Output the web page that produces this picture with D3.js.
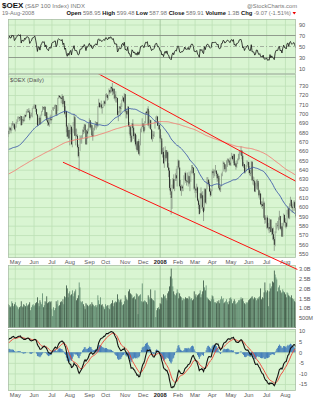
<!DOCTYPE html>
<html><head><meta charset="utf-8">
<script src="https://cdn.jsdelivr.net/npm/d3@7"></script>
<style>
html,body{margin:0;padding:0;background:#fff;}
svg{display:block;font-family:"Liberation Sans",Arial,sans-serif;}
</style></head><body>
<svg id="chart" width="322" height="400"></svg>
<script>
// ---- $OEX daily data ----
const startDate = "2007-04-19";
const endDate = "2008-08-19";
const holidays = ["2007-05-28","2007-07-04","2007-09-03","2007-11-22","2007-12-25",
  "2008-01-01","2008-01-21","2008-02-18","2008-03-21","2008-05-26","2008-07-04"];
const monthNames = ["2008","Feb","Mar","Apr","May","Jun","Jul","Aug","Sep","Oct","Nov","Dec"];

// closes before the plotted range (Jun 30 2006 - Apr 18 2007), used to seed the indicators
const history = [
  588.0,
  592.6,589.8,585.7,586.1,587.1,589.4,582.5,575.5,572.7,571.8,572.3,582.9,578.3,574.1,583.4,587.1,587.1,584.8,591.7,590.8,
  591.3,592.6,592.2,592.6,590.3,585.7,588.9,586.6,587.5,595.0,600.5,601.9,602.8,601.0,600.5,598.2,600.0,601.9,603.8,602.4,603.8,604.2,603.8,
  607.0,607.9,601.9,599.1,601.4,601.4,601.9,610.2,609.3,611.6,611.6,613.5,610.2,608.4,613.9,618.6,618.6,620.0,620.4,618.6,
  616.3,617.6,625.0,626.9,624.6,625.5,627.4,630.6,631.5,632.5,632.0,633.8,632.5,633.8,633.4,637.6,639.9,643.6,638.0,637.6,637.6,638.0,
  632.9,631.5,631.5,638.5,639.9,641.7,641.3,639.0,641.3,646.8,646.8,648.7,648.2,648.2,649.1,651.0,648.2,639.9,642.2,646.8,648.2,
  646.8,652.4,654.2,655.1,653.8,652.4,654.2,654.2,653.8,659.8,660.7,658.4,659.3,656.5,652.8,653.3,656.1,659.8,659.3,656.5,
  655.6,656.5,652.8,653.8,654.7,658.8,662.6,662.1,662.6,660.2,662.1,658.4,662.1,667.2,658.8,658.4,657.5,657.9,661.2,665.8,
  669.0,670.4,670.0,669.5,671.4,670.4,665.8,663.5,668.6,674.1,674.6,674.1,676.0,674.6,674.1,671.8,670.9,648.2,651.4,
  649.6,642.2,636.2,645.9,644.5,649.1,649.1,651.0,637.6,642.6,645.0,641.7,649.1,652.8,664.4,663.9,664.9,665.3,661.6,656.5,658.8,657.9,
  659.3,665.8,665.8,668.1,668.6,670.4,665.8,670.0,672.7,679.7,681.1,681.5
];

const closes = [
  678.1,684.6,682.7,682.3,689.2,688.7,688.7,683.2,
  685.5,689.2,692.4,694.3,696.1,695.2,697.5,687.8,693.8,692.9,692.4,698.4,697.0,702.1,703.0,702.6,701.6,695.2,698.4,699.8,705.3,705.8,
  708.1,709.5,705.3,699.3,687.4,694.7,695.6,688.7,698.4,702.1,706.7,705.8,707.2,697.5,701.6,692.9,690.6,688.3,694.7,694.3,692.9,
  703.8,706.1,706.1,708.9,709.3,699.1,702.8,716.7,719.0,717.7,717.2,715.8,719.0,710.2,713.5,700.1,702.8,686.2,675.5,682.5,673.7,
  681.9,685.7,667.1,683.4,687.1,696.9,676.4,676.6,676.3,664.3,654.5,656.8,672.6,673.1,674.0,681.9,681.0,688.5,682.4,667.1,681.0,678.7,686.1,
  693.1,685.2,688.0,676.8,675.4,684.7,684.9,690.3,690.8,687.5,707.1,711.7,707.1,709.9,706.6,706.2,709.9,713.1,710.8,
  720.1,720.4,716.9,718.3,725.2,722.9,728.5,727.1,723.9,726.6,720.6,716.4,717.3,716.9,698.7,701.5,707.6,705.7,705.2,714.5,717.3,713.1,721.1,
  702.4,702.9,699.2,707.6,686.6,686.4,676.4,669.9,689.4,684.7,675.9,678.7,667.1,670.3,661.0,670.6,657.0,665.2,683.8,684.3,689.4,
  685.7,681.0,691.3,702.0,700.6,705.2,687.5,691.7,693.1,683.3,673.1,677.3,676.8,680.1,691.3,696.8,697.0,687.1,688.0,683.3,
  673.6,673.4,656.8,659.1,647.0,655.9,661.0,652.2,659.1,642.4,639.1,620.5,616.8,609.8,623.3,629.8,619.6,629.8,634.0,630.8,641.9,
  649.8,642.4,622.4,617.7,621.9,620.0,623.3,627.9,636.3,628.2,627.6,627.5,633.1,625.2,629.8,638.2,642.9,642.4,636.3,619.6,
  619.8,617.7,621.0,607.0,602.3,592.6,614.5,609.3,612.6,599.6,594.4,619.1,604.7,619.4,627.9,629.4,624.7,616.8,612.6,615.9,
  638.2,636.3,637.7,637.9,639.1,635.4,630.8,633.5,620.5,618.6,621.0,635.4,635.9,647.5,646.1,640.5,642.4,646.6,650.8,649.8,647.5,645.2,
  652.4,654.7,651.4,656.5,645.0,646.8,643.1,649.6,649.8,652.4,659.3,660.2,660.7,654.7,644.0,645.9,637.1,641.3,643.6,647.3,648.2,
  640.2,636.5,636.3,648.7,628.6,629.1,627.6,616.8,618.8,628.1,628.1,618.6,612.5,614.6,603.0,602.9,601.1,604.6,588.6,586.3,587.0,
  588.7,577.9,578.6,576.7,586.5,573.2,577.2,570.8,565.6,559.5,573.5,580.4,580.6,580.2,588.1,590.5,576.8,579.2,568.4,581.7,591.4,583.6,
  583.0,578.9,596.3,598.8,588.5,603.0,607.6,600.4,598.8,602.5,605.2,598.98,589.91
];

const highs = [
  682,686,686,685,690,692,690,690,
  687,691,694,697,697,696,698,697,694,697,697,699,699,703,705,705,706,704,699,701,706,708,
  710,710,709,705,699,695,698,696,699,703,708,707,708,708,702,701,697,695,695,698,699,
  704,707,707,709,710,709,704,717,720,720,719,717,721,719,716,714,708,703,688,685,690,
  683,688,687,684,691,700,695,684,684,678,667,659,677,676,677,683,686,689,688,683,682,684,690,
  695,692,690,687,681,685,688,692,691,691,708,716,712,711,714,707,711,714,714,
  721,722,720,719,727,725,729,729,733,727,727,720,724,718,716,703,708,708,711,715,719,717,722,
  720,706,704,708,706,691,685,680,690,694,686,680,678,677,668,671,673,666,684,686,695,
  690,685,692,702,703,706,708,703,694,693,683,682,681,681,692,697,698,697,692,688,
  684,677,671,663,664,656,665,659,661,658,647,642,630,611,624,631,635,630,636,641,644,
  651,650,642,629,624,623,624,634,637,638,629,637,634,638,630,639,645,645,642,636,
  622,620,625,622,609,604,615,621,616,617,598,620,620,620,632,632,629,627,620,619,
  639,641,640,640,645,639,637,636,631,623,623,636,638,649,648,646,645,650,652,652,650,653,
  653,658,655,657,657,649,646,650,652,657,660,661,665,660,656,648,646,642,645,650,649,
  648,644,640,649,648,633,632,628,626,629,630,626,618,617,614,606,606,610,606,591,591,
  589,591,583,588,587,587,579,576,578,568,574,583,583,585,589,596,590,583,580,583,593,592,
  588,584,597,601,597,604,611,608,603,605,607,607,599.48
];

const lows = [
  675,678,681,679,682,687,685,683,
  681,685,689,691,694,692,693,687,688,690,691,692,696,697,701,701,701,693,695,697,696,705,
  706,705,702,698,687,687,694,688,689,698,702,704,704,697,695,692,687,687,686,693,689,
  693,704,703,705,708,698,698,703,716,717,716,711,716,707,711,699,696,680,675,673,673,
  666,678,667,664,679,687,676,666,675,663,653,638,660,668,668,674,678,679,682,667,667,673,681,
  685,683,685,675,671,676,682,685,683,685,686,707,706,707,705,700,706,710,708,
  710,718,714,715,719,721,722,723,720,722,716,714,712,712,698,692,701,697,700,707,714,712,711,
  701,695,695,699,686,678,674,669,671,682,673,670,665,662,659,660,656,655,666,680,686,
  684,679,682,690,699,700,687,685,684,683,672,670,673,675,684,691,693,687,683,683,
  669,672,656,653,646,642,649,649,654,642,632,618,613,592,598,620,619,617,628,628,622,
  640,641,621,617,612,617,617,624,629,626,623,626,622,624,617,627,636,636,634,618,
  615,610,615,606,598,592,594,608,598,596,585,596,604,603,619,624,622,616,611,612,
  617,634,631,633,637,633,627,628,619,617,616,622,633,638,643,638,637,638,643,648,645,644,
  644,652,650,647,644,644,640,642,646,650,651,656,655,651,643,642,636,636,638,643,645,
  636,634,633,636,628,624,623,616,616,619,622,618,610,608,602,600,598,601,588,582,583,
  577,577,575,572,574,573,570,565,564,553,558,572,576,578,575,586,576,575,568,568,580,583,
  578,577,579,592,587,587,601,599,594,595,601,596,587.98
];

// daily volume, billions of shares
const volumes = [
  1.20,1.15,1.05,1.10,1.35,1.25,1.10,1.20,
  1.30,1.15,1.10,1.05,0.95,1.05,1.10,1.35,1.10,1.05,1.20,1.15,1.10,1.25,1.10,1.15,1.20,1.30,0.90,1.05,1.15,1.20,
  1.10,1.15,1.25,1.30,1.55,1.25,1.10,1.40,1.30,1.20,1.75,1.05,1.15,1.35,1.30,1.60,1.25,1.30,1.35,1.30,1.35,
  0.95,0.60,1.05,0.90,1.00,1.35,1.20,1.40,1.10,1.15,1.30,1.35,1.30,1.45,1.20,1.60,1.55,2.15,2.00,1.55,1.75,
  1.85,1.65,1.70,1.90,1.60,1.75,1.85,1.95,1.40,1.50,1.65,2.30,2.05,1.35,1.30,1.35,1.20,1.10,0.95,1.25,1.20,1.15,1.10,
  1.15,1.20,1.10,1.30,1.20,1.15,1.10,1.15,1.05,1.15,1.65,1.40,1.20,1.55,1.15,1.20,1.10,1.05,0.95,
  1.20,1.10,1.15,1.00,1.15,0.95,1.20,1.25,1.40,1.10,1.25,1.30,1.35,1.30,1.70,1.45,1.30,1.40,1.45,1.30,1.15,1.20,1.35,
  1.65,1.55,1.45,1.40,1.85,1.95,1.75,1.70,1.65,1.50,1.55,1.60,1.45,1.75,1.70,0.70,1.60,1.65,1.70,1.35,2.25,
  1.30,1.35,1.40,1.35,1.30,1.20,1.65,1.55,1.45,1.95,1.50,1.45,1.40,1.35,1.90,0.55,0.90,1.00,1.05,0.95,
  1.25,1.20,1.55,1.50,1.70,1.60,1.65,1.50,1.40,1.75,1.85,2.10,2.60,3.00,2.50,2.10,1.85,1.70,1.65,1.75,1.95,
  1.80,1.50,1.75,1.60,1.55,1.40,1.50,1.45,1.45,1.55,1.50,1.50,1.45,1.60,1.55,1.45,1.50,1.40,1.45,1.85,
  1.60,1.70,1.55,1.65,1.70,1.75,1.90,1.55,1.70,1.85,2.40,2.05,1.90,2.15,1.55,1.50,1.45,1.40,1.35,1.45,
  1.65,1.60,1.45,1.30,1.30,1.25,1.35,1.30,1.40,1.25,1.45,1.60,1.45,1.50,1.25,1.30,1.35,1.45,1.30,1.20,1.35,1.50,
  1.55,1.45,1.25,1.35,1.45,1.35,1.20,1.25,1.30,1.40,1.40,1.45,1.55,1.45,1.50,1.35,1.25,1.20,1.30,1.25,1.30,
  1.40,1.45,1.50,1.55,1.60,1.50,1.45,1.55,1.50,1.40,1.50,1.45,1.55,1.60,2.00,1.45,1.55,1.50,1.80,2.30,1.90,
  1.80,1.90,1.10,1.85,2.25,2.00,2.10,2.35,2.30,2.90,2.70,2.55,2.45,1.85,2.05,2.15,1.90,1.75,1.80,1.95,1.85,1.80,
  1.70,1.55,1.80,1.75,1.65,1.60,1.55,1.65,1.50,1.45,1.45,1.35,1.30
];

// hand-drawn channel lines: [date, price] anchors
const upperTrend = [["2007-10-01", 738.6], ["2008-08-19", 627.7]];
const lowerTrend = [["2007-07-20", 648.0], ["2008-08-19", 534.0]];

// axis tick values
const priceTicks = [550,560,570,580,590,600,610,620,630,640,650,660,670,680,690,700,710,720,730];
const volTicks = [0.5,1.0,1.5,2.0,2.5,3.0];
const volTickLabels = ["500M","1.0B","1.5B","2.0B","2.5B","3.0B"];
const macdTicks = [-15,-10,-5,0,5,10];
const rsiTicks = [10,30,50,70,90];

// ---- trading calendar ----
const fmt = d3.utcFormat("%Y-%m-%d");
const dates = d3.utcDay.range(new Date(startDate + "T00:00:00Z"), d3.utcDay.offset(new Date(endDate + "T00:00:00Z"), 1))
  .filter(d => d.getUTCDay() !== 0 && d.getUTCDay() !== 6 && !holidays.includes(fmt(d)));
const N = Math.min(dates.length, closes.length);
const dateIndex = new Map(dates.map((d, i) => [fmt(d), i]));
const monthStarts = [];
for (let i = 1; i < N; i++) if (dates[i].getUTCMonth() !== dates[i - 1].getUTCMonth()) monthStarts.push(i);

// ---- indicators ----
const all = history.concat(closes.slice(0, N));
const H0 = history.length;
function sma(n) {
  return d3.range(N).map(i => { const j = H0 + i; return j + 1 < n ? null : d3.mean(all.slice(j - n + 1, j + 1)); });
}
function ema(arr, n) {
  const k = 2 / (n + 1); let e = arr[0];
  return arr.map((v, i) => i === 0 ? e : (e = v * k + e * (1 - k)));
}
const ma50 = sma(50), ma200 = sma(200);
const e12 = ema(all, 12), e26 = ema(all, 26);
const macdAll = all.map((v, i) => e12[i] - e26[i]);
const sigAll = ema(macdAll, 9);
const macd = macdAll.slice(H0), signal = sigAll.slice(H0);
const hist = macd.map((m, i) => m - signal[i]);
const rsiAll = [null];
let ag = 0, al = 0;
for (let i = 1; i < all.length; i++) {
  const d = all[i] - all[i - 1], g = Math.max(d, 0), l = Math.max(-d, 0);
  if (i <= 14) { ag += g / 14; al += l / 14; } else { ag = (ag * 13 + g) / 14; al = (al * 13 + l) / 14; }
  rsiAll.push(i >= 14 ? 100 - 100 / (1 + ag / al) : null);
}
const rsi = rsiAll.slice(H0);
const prevClose = i => i === 0 ? history[H0 - 1] : closes[i - 1];

// ---- layout ----
const svg = d3.select("#chart");
const L = 8, R = 296;
const P = { rsi: { t: 19, b: 74 }, price: { t: 74, b: 258 }, vol: { t: 265, b: 328 }, macd: { t: 329, b: 391 } };
const BG = "#d9f5d2", GRID = "#bddfb5", AXT = "#555";

const x = d3.scaleLinear().domain([0, N]).range([L, R]);
const cx = i => x(i + 0.5);
const yRsi = d3.scaleLinear().domain([0, 100]).range([P.rsi.b, P.rsi.t]);
const yPrice = d3.scaleLinear().domain([545.4, 742.5]).range([P.price.b, P.price.t]);
const yVol = d3.scaleLinear().domain([0, 3.18]).range([P.vol.b, P.vol.t]);
const yMacd = d3.scaleLinear().domain([-18.3, 11]).range([P.macd.b, P.macd.t]);

const defs = svg.append("defs");
Object.entries(P).forEach(([k, p]) => {
  defs.append("clipPath").attr("id", "clip-" + k).append("rect")
    .attr("x", L).attr("y", p.t).attr("width", R - L).attr("height", p.b - p.t);
});

// panel backgrounds and grids
function panel(key, yScale, gridTicks) {
  const p = P[key];
  const g = svg.append("g");
  g.append("rect").attr("x", L).attr("y", p.t).attr("width", R - L).attr("height", p.b - p.t).attr("fill", BG);
  const hg = g.append("g").attr("transform", `translate(${L},0)`)
    .call(d3.axisLeft(yScale).tickValues(gridTicks).tickSize(-(R - L)).tickFormat(""));
  hg.select(".domain").remove();
  hg.selectAll("line").attr("stroke", GRID).attr("stroke-width", 0.8);
  const vg = g.append("g").attr("transform", `translate(0,${p.b})`)
    .call(d3.axisBottom(x).tickValues(monthStarts).tickSize(-(p.b - p.t)).tickFormat(""));
  vg.select(".domain").remove();
  vg.selectAll("line").attr("stroke", i => dates[i].getUTCMonth() === 0 ? "#9cbf95" : GRID).attr("stroke-width", 0.8);
  return g;
}
function frame(key) {
  const p = P[key];
  svg.append("rect").attr("x", L + 0.5).attr("y", p.t + 0.5).attr("width", R - L - 1).attr("height", p.b - p.t - 1)
    .attr("fill", "none").attr("stroke", "#a9b9a6").attr("stroke-width", 0.7);
}
function rightAxis(yScale, ticks, fmtFn) {
  const a = svg.append("g").attr("transform", `translate(${R},0)`)
    .call(d3.axisRight(yScale).tickValues(ticks).tickFormat(fmtFn).tickSize(0).tickPadding(3));
  a.select(".domain").remove();
  a.selectAll("text").attr("fill", AXT).attr("font-size", 5.6);
}
function monthAxis(yPos) {
  const a = svg.append("g").attr("transform", `translate(0,${yPos})`)
    .call(d3.axisBottom(x).tickValues(monthStarts).tickSize(0).tickPadding(1.5)
      .tickFormat(i => monthNames[dates[i].getUTCMonth()]));
  a.select(".domain").remove();
  a.selectAll("text").attr("fill", AXT).attr("font-size", 5.8)
    .attr("font-weight", i => dates[i].getUTCMonth() === 0 ? "bold" : null)
    .attr("fill", i => dates[i].getUTCMonth() === 0 ? "#222" : AXT);
}

// ---- header ----
const hdr = svg.append("g");
const t1 = hdr.append("text").attr("x", 2).attr("y", 8).attr("font-size", 6).attr("fill", "#777");
t1.append("tspan").text("$OEX").attr("font-weight", "bold").attr("font-size", 8).attr("fill", "#111");
t1.append("tspan").text(" (S&P 100 Index) INDX");
hdr.append("text").attr("x", 297).attr("y", 7.5).attr("text-anchor", "end").attr("font-size", 5.8).attr("fill", "#777").text("@StockCharts.com");
hdr.append("text").attr("x", 2).attr("y", 15).attr("font-size", 5.6).attr("fill", "#777").text("19-Aug-2008");
const quote = [["Open", "598.95"], ["High", "599.48"], ["Low", "587.98"], ["Close", "589.91"], ["Volume", "1.3B"], ["Chg", "-9.07 (-1.51%)"]];
const t2 = hdr.append("text").attr("x", 291).attr("y", 15).attr("text-anchor", "end").attr("font-size", 5.8);
quote.forEach(([k, v], j) => {
  t2.append("tspan").text((j ? " " : "") + k + " ").attr("font-weight", "bold").attr("fill", "#111");
  t2.append("tspan").text(v).attr("fill", "#777");
});
hdr.append("path").attr("d", "M292.5,12 L296,12 L294.25,14.5 Z").attr("fill", "#e00");

// ---- RSI panel ----
panel("rsi", yRsi, [10, 90]);
svg.append("g").selectAll("line").data([30, 70]).join("line")
  .attr("x1", L).attr("x2", R).attr("y1", d => yRsi(d)).attr("y2", d => yRsi(d))
  .attr("stroke", "#7d857b").attr("stroke-width", 0.8);
svg.append("line").attr("x1", L).attr("x2", R).attr("y1", yRsi(50)).attr("y2", yRsi(50))
  .attr("stroke", "#8a9288").attr("stroke-width", 0.7).attr("stroke-dasharray", "4,2,1,2");
svg.append("path").datum(d3.range(N).filter(i => rsi[i] != null))
  .attr("clip-path", "url(#clip-rsi)")
  .attr("d", d3.line().x(i => cx(i)).y(i => yRsi(rsi[i])))
  .attr("fill", "none").attr("stroke", "#111").attr("stroke-width", 0.8);
frame("rsi");
rightAxis(yRsi, rsiTicks, d => d);

// ---- price panel ----
panel("price", yPrice, priceTicks.concat([740]));
const pg = svg.append("g").attr("clip-path", "url(#clip-price)");
const idx = d3.range(N);
pg.append("g").selectAll("line").data(idx).join("line")
  .attr("x1", i => cx(i)).attr("x2", i => cx(i))
  .attr("y1", i => yPrice(highs[i])).attr("y2", i => yPrice(lows[i]))
  .attr("stroke", "#8e9e8c").attr("stroke-width", 0.9);
pg.append("g").selectAll("rect").data(idx.filter(i => closes[i] < prevClose(i))).join("rect")
  .attr("x", i => cx(i) - 0.4).attr("width", 0.8)
  .attr("y", i => yPrice(prevClose(i))).attr("height", i => Math.max(0.4, yPrice(closes[i]) - yPrice(prevClose(i))))
  .attr("fill", "#1a1a1a");
const maLine = arr => d3.line().defined(i => arr[i] != null).x(i => cx(i)).y(i => yPrice(arr[i]));
pg.append("path").datum(idx).attr("d", maLine(ma200)).attr("fill", "none").attr("stroke", "#f47a72").attr("stroke-width", 0.9);
pg.append("path").datum(idx).attr("d", maLine(ma50)).attr("fill", "none").attr("stroke", "#3c58a8").attr("stroke-width", 0.9);

// channel lines, extended through their anchors
function trendEnds(tr, fromIdx, toIdx) {
  const i0 = dateIndex.get(tr[0][0]) + 0.5, i1 = dateIndex.get(tr[1][0]) + 0.5;
  const slope = (tr[1][1] - tr[0][1]) / (i1 - i0);
  return [fromIdx, toIdx].map(t => [x(t), yPrice(tr[0][1] + slope * (t - i0))]);
}
const up = trendEnds(upperTrend, 60, N + 0.2);
pg.append("line").attr("x1", up[0][0]).attr("y1", up[0][1]).attr("x2", up[1][0]).attr("y2", up[1][1])
  .attr("stroke", "#ff1010").attr("stroke-width", 1);
svg.append("text").attr("x", 10).attr("y", 82).attr("font-size", 5.8).attr("fill", "#555").text("$OEX (Daily)");
frame("price");
rightAxis(yPrice, priceTicks, d => d);

// ---- date strip ----
monthAxis(P.price.b);

// ---- volume panel ----
panel("vol", yVol, volTicks);
svg.append("g").attr("clip-path", "url(#clip-vol)").selectAll("rect").data(idx).join("rect")
  .attr("x", i => cx(i) - 0.36).attr("width", 0.72)
  .attr("y", i => yVol(volumes[i])).attr("height", i => yVol(0) - yVol(volumes[i]))
  .attr("fill", i => closes[i] >= prevClose(i) ? "#4f7d63" : "#223f30");
frame("vol");
rightAxis(yVol, volTicks, (d, j) => volTickLabels[j]);

// lower channel line runs across the date strip into the volume panel
const lo = trendEnds(lowerTrend, dateIndex.get(lowerTrend[0][0]) + 0.5, N + 1.6);
svg.append("line").attr("x1", lo[0][0]).attr("y1", lo[0][1]).attr("x2", lo[1][0]).attr("y2", lo[1][1])
  .attr("stroke", "#ff1010").attr("stroke-width", 1);

// ---- MACD panel ----
panel("macd", yMacd, macdTicks);
const mg = svg.append("g").attr("clip-path", "url(#clip-macd)");
mg.append("g").selectAll("rect").data(idx).join("rect")
  .attr("x", i => cx(i) - 0.45).attr("width", 0.9)
  .attr("y", i => Math.min(yMacd(0), yMacd(hist[i]))).attr("height", i => Math.abs(yMacd(hist[i]) - yMacd(0)))
  .attr("fill", "#3a76b8");
mg.append("path").datum(idx).attr("d", d3.line().x(i => cx(i)).y(i => yMacd(signal[i])))
  .attr("fill", "none").attr("stroke", "#f03c30").attr("stroke-width", 0.9);
mg.append("path").datum(idx).attr("d", d3.line().x(i => cx(i)).y(i => yMacd(macd[i])))
  .attr("fill", "none").attr("stroke", "#111").attr("stroke-width", 1.1);
frame("macd");
rightAxis(yMacd, macdTicks, d => d);
monthAxis(P.macd.b);
</script></body></html>
